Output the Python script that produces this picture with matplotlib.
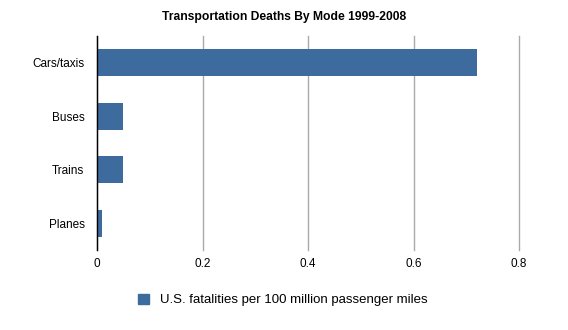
import matplotlib
matplotlib.use("Agg")
import matplotlib.pyplot as plt
from matplotlib.patches import Patch

modes = ["Cars/taxis", "Buses", "Trains", "Planes"]
deaths = [0.72, 0.05, 0.05, 0.01]
xticks = [0, 0.2, 0.4, 0.6, 0.8]
series_name = "U.S. fatalities per 100 million passenger miles"
bar_color = "#3d6b9e"

plt.rcParams["font.family"] = ["Liberation Sans", "DejaVu Sans"]

fig = plt.figure(figsize=(5.68, 3.3), dpi=100)
ax = fig.add_axes([97 / 568, 1 - 250 / 330, (519 - 97) / 568, (250 - 36) / 330])

ypos = list(range(len(modes)))
ax.barh(ypos, deaths, height=0.5, color=bar_color, zorder=3)
ax.set_yticks(ypos)
ax.set_yticklabels(modes, fontsize=8.5)
ax.set_ylim(len(modes) - 0.5, -0.5)

ax.set_xlim(0, 0.8)
ax.set_xticks(xticks)
ax.set_xticklabels(["0", "0.2", "0.4", "0.6", "0.8"], fontsize=8.5)
ax.grid(axis="x", color="#aaaaaa", linewidth=1, zorder=0)
for gl in ax.get_xgridlines():
    gl.set_clip_on(False)
ax.tick_params(axis="x", length=0, pad=6)
ax.tick_params(axis="y", length=0, pad=9)

for s in ["top", "right", "bottom"]:
    ax.spines[s].set_visible(False)
ax.spines["left"].set_color("black")
ax.spines["left"].set_linewidth(1)
ax.spines["left"].set_zorder(4)

fig.text(0.5, 1 - 17 / 330, "Transportation Deaths By Mode 1999-2008",
         ha="center", va="center", fontsize=8.7, fontweight="bold")

handle = Patch(facecolor=bar_color, edgecolor=bar_color)
fig.legend([handle], [series_name], loc="center", bbox_to_anchor=(283 / 568, 1 - 300 / 330),
           frameon=False, fontsize=9.5, handlelength=0.8, handleheight=0.8, handletextpad=0.9)

fig.savefig("out.png", dpi=100)
